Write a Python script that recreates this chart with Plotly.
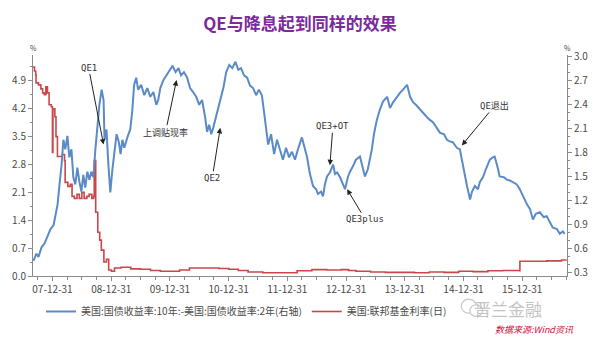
import plotly.graph_objects as go

# ---------------- data ----------------
spread_dates = [
    "2007-09-04", "2007-09-22", "2007-10-05", "2007-10-24", "2007-11-12", "2007-12-01", "2007-12-19",
    "2008-01-07", "2008-01-19", "2008-02-01", "2008-02-13", "2008-02-26", "2008-03-08", "2008-03-20",
    "2008-04-02", "2008-04-14", "2008-04-27", "2008-05-09", "2008-05-21", "2008-06-03", "2008-06-15",
    "2008-06-28", "2008-07-10", "2008-07-22", "2008-08-04", "2008-08-17", "2008-08-29", "2008-09-11",
    "2008-09-23", "2008-10-05", "2008-10-18", "2008-11-01", "2008-11-13", "2008-11-19", "2008-12-01",
    "2008-12-13", "2008-12-25", "2009-01-07", "2009-01-20", "2009-02-02", "2009-02-15", "2009-02-27",
    "2009-03-10", "2009-03-22", "2009-04-10", "2009-04-28", "2009-05-10", "2009-05-22", "2009-06-04",
    "2009-06-16", "2009-07-05", "2009-07-24", "2009-08-12", "2009-08-31", "2009-09-19", "2009-10-07",
    "2009-10-19", "2009-11-01", "2009-11-20", "2009-12-09", "2009-12-28", "2010-01-16", "2010-02-04",
    "2010-02-22", "2010-03-10", "2010-03-28", "2010-04-17", "2010-05-05", "2010-05-24", "2010-06-12",
    "2010-07-01", "2010-07-19", "2010-08-07", "2010-08-19", "2010-09-01", "2010-09-14", "2010-09-26",
    "2010-10-09", "2010-10-21", "2010-11-09", "2010-11-28", "2010-12-16", "2011-01-04", "2011-01-23",
    "2011-02-11", "2011-03-01", "2011-03-18", "2011-04-06", "2011-04-25", "2011-05-13", "2011-06-01",
    "2011-06-20", "2011-07-07", "2011-07-26", "2011-08-15", "2011-09-03", "2011-09-21", "2011-10-10",
    "2011-10-28", "2011-11-16", "2011-12-04", "2011-12-23", "2012-01-11", "2012-01-29", "2012-02-17",
    "2012-03-06", "2012-03-31", "2012-04-19", "2012-05-01", "2012-05-20", "2012-06-08", "2012-06-27",
    "2012-07-09", "2012-07-28", "2012-08-09", "2012-08-21", "2012-09-03", "2012-09-21", "2012-10-11",
    "2012-10-23", "2012-11-05", "2012-11-23", "2012-12-06", "2012-12-24", "2013-01-12", "2013-01-24",
    "2013-02-12", "2013-03-02", "2013-03-27", "2013-04-15", "2013-04-27", "2013-05-15", "2013-06-09",
    "2013-06-22", "2013-07-10", "2013-07-29", "2013-08-17", "2013-09-12", "2013-09-30", "2013-10-19",
    "2013-11-07", "2013-12-01", "2013-12-20", "2014-01-14", "2014-02-02", "2014-02-21", "2014-03-10",
    "2014-04-04", "2014-04-22", "2014-05-16", "2014-06-05", "2014-06-24", "2014-07-18", "2014-08-06",
    "2014-09-01", "2014-09-19", "2014-10-07", "2014-10-25", "2014-11-20", "2014-12-09", "2014-12-21",
    "2015-01-03", "2015-01-22", "2015-02-10", "2015-02-22", "2015-03-12", "2015-03-31", "2015-04-12",
    "2015-05-01", "2015-05-19", "2015-06-13", "2015-07-01", "2015-07-13", "2015-08-01", "2015-08-13",
    "2015-09-08", "2015-09-27", "2015-10-15", "2015-11-03", "2015-11-28", "2015-12-16", "2016-01-04",
    "2016-01-30", "2016-02-18", "2016-03-07", "2016-03-25", "2016-04-19", "2016-05-13", "2016-06-01",
    "2016-06-19", "2016-07-08", "2016-08-03", "2016-08-21", "2016-09-09", "2016-09-21",
]
spread_values = [
    0.44, 0.53, 0.49, 0.61, 0.66, 0.76, 0.84,
    0.89, 1.04, 1.15, 1.40, 1.65, 1.96, 1.84,
    2.01, 1.74, 1.84, 1.49, 1.40, 1.61, 1.44,
    1.31, 1.52, 1.36, 1.56, 1.46, 1.56, 1.49,
    1.84, 2.15, 2.40, 2.59, 2.46, 1.96, 2.09,
    1.65, 1.30, 1.59, 1.84, 2.03, 1.94, 1.78,
    1.96, 1.86, 1.99, 2.09, 2.31, 2.65, 2.74,
    2.59, 2.65, 2.52, 2.61, 2.50, 2.56, 2.40,
    2.46, 2.61, 2.71, 2.77, 2.84, 2.89, 2.81,
    2.86, 2.77, 2.81, 2.74, 2.61, 2.56, 2.50,
    2.40, 2.46, 2.24, 2.06, 2.15, 2.03, 2.11,
    2.21, 2.31, 2.46, 2.61, 2.81, 2.90, 2.86,
    2.94, 2.84, 2.86, 2.77, 2.74, 2.64, 2.61,
    2.52, 2.59, 2.52, 2.21, 1.90, 2.03, 1.78,
    1.96, 1.84, 1.71, 1.86, 1.74, 1.81, 1.71,
    1.84, 1.99, 1.84, 1.75, 1.53, 1.38, 1.34,
    1.28, 1.31, 1.25, 1.40, 1.50, 1.55, 1.65,
    1.53, 1.55, 1.49, 1.43, 1.34, 1.50, 1.56,
    1.63, 1.71, 1.75, 1.59, 1.50, 1.59, 1.84,
    2.03, 2.21, 2.34, 2.44, 2.50, 2.36, 2.43,
    2.49, 2.55, 2.59, 2.65, 2.50, 2.43, 2.40,
    2.34, 2.30, 2.25, 2.21, 2.18, 2.11, 2.05,
    2.03, 1.96, 1.94, 1.93, 1.86, 1.84, 1.71,
    1.56, 1.38, 1.21, 1.31, 1.38, 1.34, 1.43,
    1.49, 1.59, 1.71, 1.74, 1.75, 1.61, 1.50,
    1.49, 1.46, 1.45, 1.43, 1.40, 1.34, 1.25,
    1.15, 1.09, 0.96, 1.03, 1.05, 0.99, 1.00,
    0.93, 0.86, 0.84, 0.78, 0.81, 0.78,
]

ffr_dates = [
    "2007-09-01", "2007-09-10", "2007-09-18", "2007-09-20", "2007-10-05", "2007-10-20", "2007-10-31",
    "2007-11-10", "2007-11-20", "2007-11-30", "2007-12-10", "2007-12-24", "2007-12-31", "2008-01-03",
    "2008-01-15", "2008-01-22", "2008-01-31", "2008-02-15", "2008-03-01", "2008-03-15", "2008-03-19",
    "2008-04-05", "2008-04-20", "2008-05-01", "2008-05-15", "2008-06-01", "2008-06-15", "2008-07-01",
    "2008-07-15", "2008-08-01", "2008-08-15", "2008-09-01", "2008-09-12", "2008-09-16", "2008-09-25",
    "2008-10-08", "2008-10-20", "2008-10-30", "2008-11-15", "2008-12-01", "2008-12-15", "2009-01-01",
    "2009-01-20", "2009-03-01", "2009-05-01", "2009-07-01", "2009-09-01", "2009-11-01", "2010-01-01",
    "2010-03-01", "2010-05-01", "2010-08-01", "2010-11-01", "2011-01-01", "2011-03-01", "2011-05-01",
    "2011-08-01", "2011-11-01", "2012-01-01", "2012-03-01", "2012-06-01", "2012-09-01", "2012-12-01",
    "2013-01-15", "2013-03-01", "2013-06-01", "2013-09-01", "2013-12-01", "2014-03-01", "2014-06-01",
    "2014-09-01", "2014-12-01", "2015-03-01", "2015-06-01", "2015-09-01", "2015-12-15", "2015-12-17",
    "2016-03-01", "2016-06-01", "2016-09-01", "2016-09-30",
]
ffr_values = [
    5.25, 5.15, 5.05, 4.85, 4.80, 4.70, 4.60,
    4.55, 4.75, 4.60, 4.30, 4.25, 3.10, 4.20,
    4.00, 3.50, 3.00, 3.00, 3.05, 2.90, 2.35,
    2.25, 2.30, 2.00, 1.95, 2.05, 1.95, 2.10,
    1.95, 2.00, 2.05, 1.95, 2.00, 2.90, 1.60,
    1.10, 0.90, 0.65, 0.35, 0.42, 0.15, 0.12,
    0.20, 0.22, 0.18, 0.17, 0.14, 0.12, 0.12,
    0.15, 0.20, 0.20, 0.19, 0.17, 0.14, 0.10,
    0.08, 0.08, 0.08, 0.13, 0.16, 0.15, 0.16,
    0.14, 0.12, 0.10, 0.09, 0.09, 0.08, 0.10,
    0.09, 0.12, 0.11, 0.13, 0.14, 0.13, 0.37,
    0.37, 0.38, 0.40, 0.41,
]

tick_dates = ["2007-12-31", "2008-12-31", "2009-12-31", "2010-12-31", "2011-12-31",
              "2012-12-31", "2013-12-31", "2014-12-31", "2015-12-31"]
tick_labels = ["07-12-31", "08-12-31", "09-12-31", "10-12-31", "11-12-31",
               "12-12-31", "13-12-31", "14-12-31", "15-12-31"]

left_ticks = [0.0, 0.7, 1.4, 2.1, 2.8, 3.5, 4.2, 4.9]
right_ticks = [0.3, 0.6, 0.9, 1.2, 1.5, 1.8, 2.1, 2.4, 2.7, 3.0]

series_names = ["美国:国债收益率:10年:-美国:国债收益率:2年(右轴)", "美国:联邦基金利率(日)"]

# (label, date, value on right axis, text offset x, text offset y)
events = [
    ("QE1", "2008-11-13", 1.90, -15, -77),
    ("上调贴现率", "2010-02-10", 2.71, -11, 52),
    ("QE2", "2010-11-09", 2.11, -8, 50),
    ("QE3+OT", "2012-09-21", 1.64, 3, -39),
    ("QE3plus", "2013-01-06", 1.34, 18, 30),
    ("QE退出", "2014-12-21", 1.89, 33, -40),
]

title_text = "QE与降息起到同样的效果"
source_text = "数据来源:Wind资讯"
watermark_text = "晋兰金融"

BLUE = "#5a8bc6"
RED = "#c9474a"
AX = "#8a8a8a"
TXT = "#4a4a4a"
FONT = "Noto Sans CJK SC"

fig = go.Figure()
fig.add_trace(go.Scatter(x=spread_dates, y=spread_values, mode="lines", name=series_names[0],
                         line=dict(color=BLUE, width=2), yaxis="y2"))
fig.add_trace(go.Scatter(x=ffr_dates, y=ffr_values, mode="lines", name=series_names[1],
                         line=dict(color=RED, width=1.6, shape="hv"), yaxis="y"))

for label, d, v, ax, ay in events:
    fig.add_annotation(x=d, y=v, xref="x", yref="y2", text=label, showarrow=True,
                       ax=ax, ay=ay, arrowhead=2, arrowsize=1.1, arrowwidth=1, arrowcolor="#222",
                       standoff=0, startstandoff=0,
                       font=dict(family="DejaVu Sans Mono, " + FONT, size=9, color="#333"))

# percent unit markers at axis tops
fig.add_annotation(x=0, y=1, xref="paper", yref="paper", text="%", showarrow=False,
                   xanchor="center", yanchor="bottom", font=dict(size=7, color=TXT, family=FONT))
fig.add_annotation(x=1, y=1, xref="paper", yref="paper", text="%", showarrow=False,
                   xanchor="center", yanchor="bottom", font=dict(size=7, color=TXT, family=FONT))

# watermark and source
fig.add_annotation(x=0.89, y=-0.145, xref="paper", yref="paper", text=watermark_text, showarrow=False,
                   xanchor="center", yanchor="middle", font=dict(size=17, color="#c4c4c4", family=FONT))
fig.add_shape(type="circle", xref="paper", yref="paper", x0=0.802, x1=0.830, y0=-0.168, y1=-0.105,
              line=dict(color="#c8c8c8", width=1.2))
fig.add_shape(type="circle", xref="paper", yref="paper", x0=0.818, x1=0.842, y0=-0.183, y1=-0.130,
              line=dict(color="#c8c8c8", width=1.2), fillcolor="white")
fig.add_annotation(x=0.94, y=-0.24, xref="paper", yref="paper", text="<i>" + source_text + "</i>",
                   showarrow=False, xanchor="center", yanchor="middle",
                   font=dict(size=9, color="#d0103a", family=FONT))

fig.update_layout(
    width=600, height=337,
    margin=dict(l=33, r=33, t=55, b=60),
    paper_bgcolor="white", plot_bgcolor="white",
    font=dict(family=FONT, color=TXT, size=10),
    title=dict(text="<b>" + title_text + "</b>", x=0.5, xanchor="center", y=0.93, yanchor="middle",
               font=dict(size=17, color="#7a2a9a", family=FONT)),
    showlegend=True,
    legend=dict(orientation="h", x=0.015, y=-0.09, xanchor="left", yanchor="top",
                font=dict(size=10, color=TXT, family=FONT), bgcolor="rgba(0,0,0,0)",
                itemwidth=30, tracegroupgap=0),
    xaxis=dict(type="date", range=["2007-09-01", "2016-10-05"], tickvals=tick_dates, ticktext=tick_labels,
               showgrid=False, zeroline=False, showline=True, linecolor=AX, linewidth=1,
               ticks="outside", ticklen=4, tickcolor=AX, tickfont=dict(size=10, color=TXT),
               minor=dict(dtick="M3", tick0="2007-12-31", ticks="outside", ticklen=3, tickcolor=AX, showgrid=False)),
    yaxis=dict(range=[0, 5.55], tickvals=left_ticks, tickformat=".1f", showgrid=False, zeroline=False,
               showline=True, linecolor=AX, linewidth=1, ticks="outside", ticklen=4, tickcolor=AX,
               tickfont=dict(size=10, color=TXT),
               minor=dict(dtick=0.35, ticks="outside", ticklen=2, tickcolor=AX, showgrid=False)),
    yaxis2=dict(range=[0.25, 3.025], tickvals=right_ticks, tickformat=".1f", overlaying="y", side="right",
                showgrid=False, zeroline=False, showline=True, linecolor=AX, linewidth=1,
                ticks="outside", ticklen=4, tickcolor=AX, tickfont=dict(size=10, color=TXT),
                minor=dict(dtick=0.1, tick0=0.3, ticks="outside", ticklen=2, tickcolor=AX, showgrid=False)),
)

fig.write_html("out.html")
